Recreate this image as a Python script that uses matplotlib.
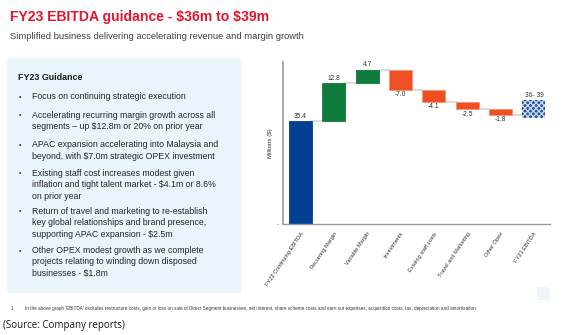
import matplotlib.pyplot as plt
from matplotlib.patches import FancyBboxPatch, Rectangle

# chart data
categories = ["FY22 Continuing EBITDA", "Recurring Margin", "Variable Margin", "Investments",
              "Existing staff costs", "Travel and Marketing", "Other Opex", "FY23 EBITDA"]
start_value = 35.4
steps = [12.8, 4.7, -7.0, -4.1, -2.5, -1.8]
guide_low = 36.3
guide_high = 42.5
bar_labels = ["35.4", "12.8", "4.7", "-7.0", "-4.1", "-2.5", "-1.8", "36- 39"]

guidance_points = [
    "Focus on continuing strategic execution",
    "Accelerating recurring margin growth across all\nsegments \u2013 up $12.8m or 20% on prior year",
    "APAC expansion accelerating into Malaysia and\nbeyond, with $7.0m strategic OPEX investment",
    "Existing staff cost increases modest given\ninflation and tight talent market - $4.1m or 8.6%\non prior year",
    "Return of travel and marketing to re-establish\nkey global relationships and brand presence,\nsupporting APAC expansion - $2.5m",
    "Other OPEX modest growth as we complete\nprojects relating to winding down disposed\nbusinesses - $1.8m",
]
bullet_rows = [97, 116, 145.5, 174, 212, 251]

W, H = 563, 335
plt.rcParams['font.family'] = ['Liberation Sans', 'DejaVu Sans']
plt.rcParams['text.parse_math'] = False
fig = plt.figure(figsize=(W / 100, H / 100), dpi=100)


def fx(x):
    return x / W


def fy(y):
    return 1 - y / H


########################
# Titles
########################
fig.text(fx(10), fy(17), "FY23 EBITDA guidance - $36m to $39m", color='#E3142D',
         fontsize=10.1, fontweight='bold', va='center', ha='left')
fig.text(fx(10), fy(36.5), "Simplified business delivering accelerating revenue and margin growth",
         color='#404040', fontsize=6.75, va='center', ha='left')

########################
# Left guidance box
########################
box = FancyBboxPatch((fx(7), fy(293)), fx(234), (293 - 58) / H,
                     boxstyle="round,pad=0,rounding_size=0.008",
                     transform=fig.transFigure, facecolor='#EAF4FB', edgecolor='none')
fig.patches.append(box)
fig.text(fx(18), fy(78), "FY23 Guidance", fontsize=6.4, fontweight='bold', color='#1a1a1a',
         va='center', ha='left')
for row, point in zip(bullet_rows, guidance_points):
    fig.text(fx(19), fy(row), "\u2022", fontsize=5, color='#333333', va='center')
    fig.text(fx(32.5), fy(row) + 5.3 / H, point, fontsize=6.3, color='#262626',
             va='top', ha='left', linespacing=1.36)

########################
# Footnote and source
########################
fig.text(fx(11), fy(308.5), "1.", fontsize=3.3, color='#333333', va='center')
fig.text(fx(25), fy(308.5),
         "In the above graph 'EBITDA' excludes restructure costs, gain or loss on sale of Direct Segment "
         "businesses, net interest, share scheme costs and earn out expenses, acquisition costs, tax, "
         "depreciation and amortisation.", fontsize=3.3, color='#333333', va='center')
fig.text(fx(3), fy(325.5), "(Source: Company reports)", fontsize=7, color='#1a1a1a',
         va='center', family=['Open Sans', 'DejaVu Sans'])
fig.patches.append(Rectangle((fx(537), fy(300)), fx(13), 13 / H, transform=fig.transFigure,
                             facecolor='#EEF5FC', edgecolor='none'))

########################
# Waterfall chart
########################
ax = fig.add_axes([fx(283), fy(224), fx(550) - fx(283), (224 - 62) / H])

bottoms = [0]
heights = [start_value]
level = start_value
levels = [level]
for s in steps:
    if s >= 0:
        bottoms.append(level)
        heights.append(s)
    else:
        bottoms.append(level + s)
        heights.append(-s)
    level += s
    levels.append(level)

colors = ['#033F93'] + ['#0E7A3B' if s >= 0 else '#F04E23' for s in steps]
edges = ['#033F93'] + ['#0E7A3B' if s >= 0 else '#F59274' for s in steps]
x = list(range(len(categories)))
width = 0.69

# connector lines
for i, lv in enumerate(levels):
    ax.plot([i + width / 2, i + 1 - width / 2], [lv, lv], color='#DADADA', lw=1.3, zorder=1)

ax.bar(x[:-1], heights, bottom=bottoms, width=width, color=colors, edgecolor=edges,
       linewidth=0.6, zorder=2)
ax.bar(x[-1], guide_high - guide_low, bottom=guide_low, width=width, color='#1F4F9E',
       edgecolor='#C9D8EE', hatch='xxxxxx', linewidth=0, zorder=2)

# value labels
for i in range(len(categories) - 1):
    if i == 0 or steps[i - 1] >= 0:
        ax.text(i, bottoms[i] + heights[i] + 0.4, bar_labels[i], ha='center', va='bottom',
                fontsize=4.8, color='#333333')
    else:
        ax.text(i, bottoms[i] - 0.5, bar_labels[i], ha='center', va='top',
                fontsize=4.8, color='#333333')
ax.text(x[-1], guide_high + 0.4, bar_labels[-1], ha='center', va='bottom', fontsize=4.8,
        color='#333333')

ax.set_xlim(-0.52, 7.48)
ax.set_ylim(0, 55.5)
ax.set_xticks(x)
ax.set_xticklabels(categories, rotation=56, ha='right', rotation_mode='anchor',
                   fontsize=4.1, color='#333333')
ax.set_yticks([0])
ax.set_yticklabels(['-'], fontsize=4.5, color='#333333')
ax.tick_params(axis='both', length=0)
ax.tick_params(axis='x', pad=5)
ax.tick_params(axis='y', pad=3)
ax.set_ylabel("Millions ($)", fontsize=4.4, color='#333333', labelpad=3)
for side in ['top', 'right']:
    ax.spines[side].set_visible(False)
ax.spines['left'].set_color('#9A9A9A')
ax.spines['left'].set_linewidth(1.2)
ax.spines['bottom'].set_color('#9A9A9A')
ax.spines['bottom'].set_linewidth(1.0)
ax.set_facecolor('none')

plt.savefig('out.png', dpi=100)
